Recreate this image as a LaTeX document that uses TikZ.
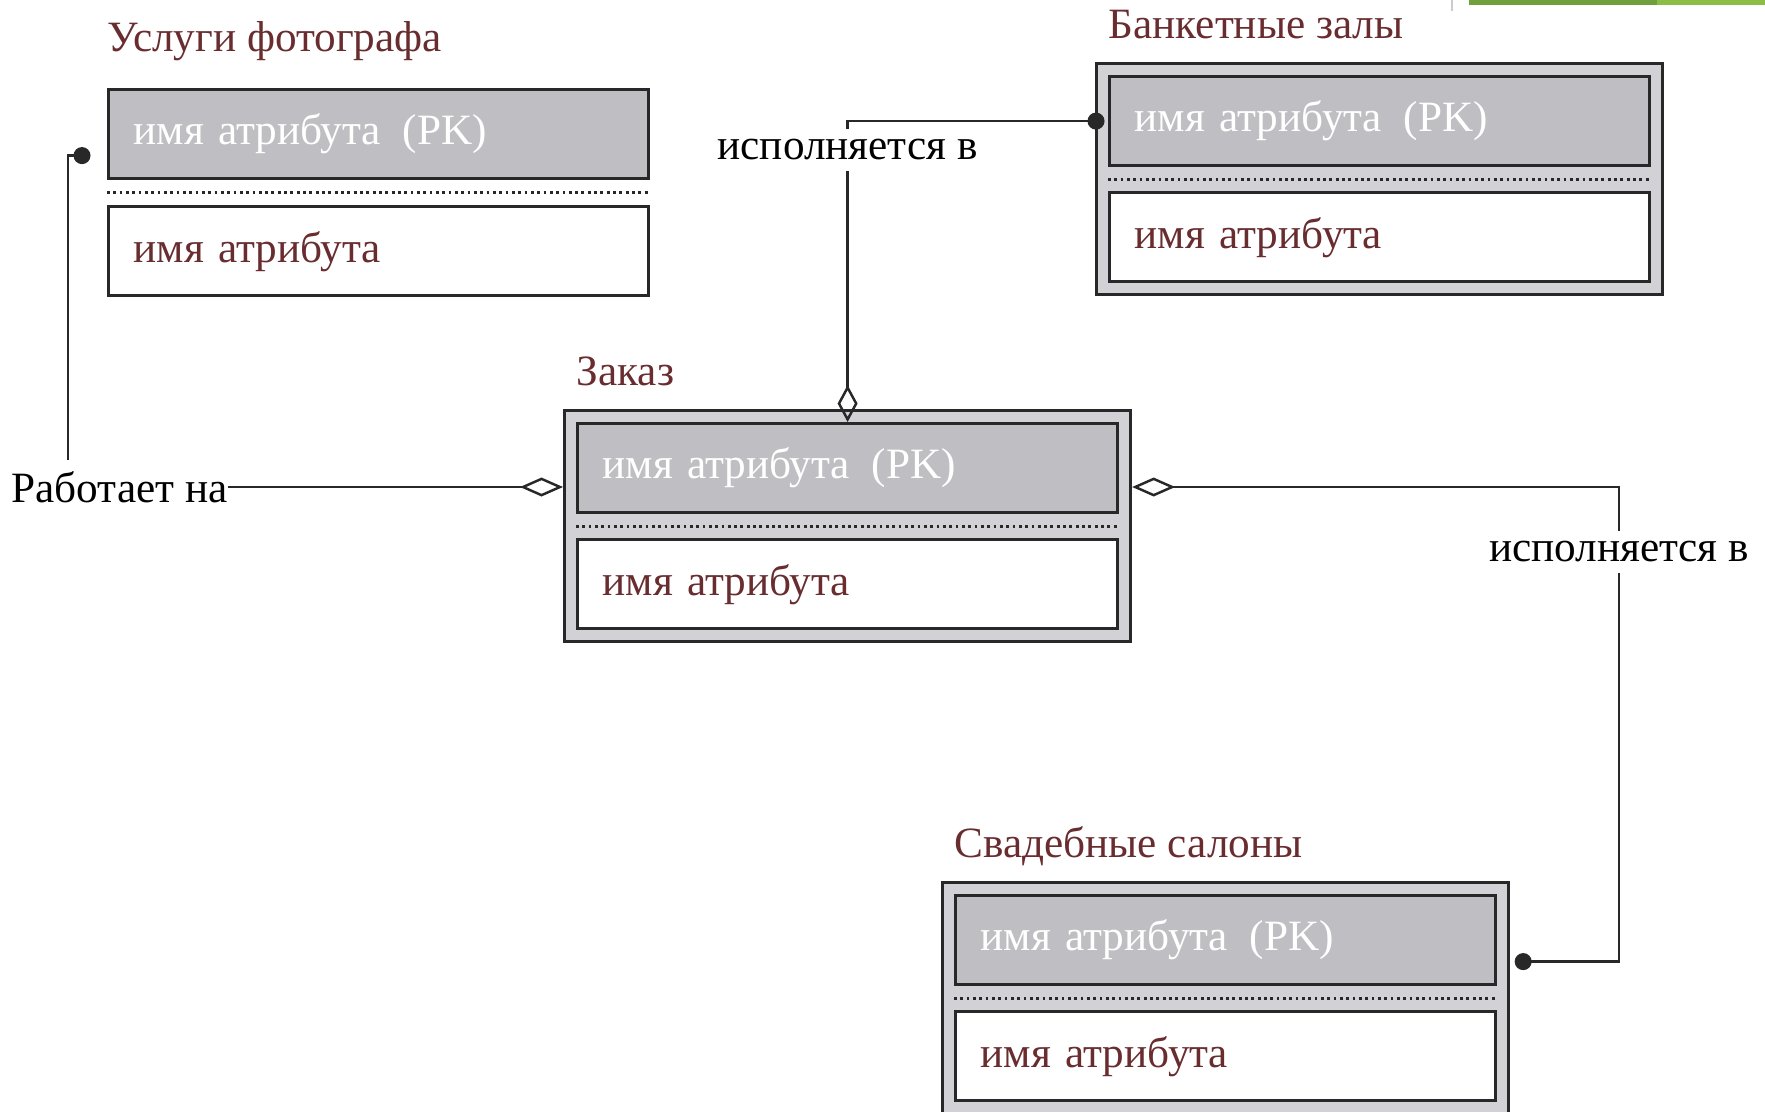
\documentclass[tikz,border=0pt]{standalone}
\usepackage{fontspec}
\setmainfont{Liberation Serif}
\usetikzlibrary{positioning,arrows.meta}

\definecolor{pkgray}{RGB}{191,190,194}
\definecolor{framegray}{RGB}{210,209,213}
\definecolor{ink}{RGB}{40,40,40}
\definecolor{maroon}{RGB}{105,45,48}
\definecolor{slidegreen}{RGB}{112,160,60}
\definecolor{slidelime}{RGB}{140,190,70}

\newcommand{\erfont}{\fontsize{12.3}{14}\selectfont}

\tikzset{
  frame/.style={draw=ink, fill=framegray, line width=0.9pt,
    minimum width=5.66cm, minimum height=2.31cm, inner sep=0pt},
  pk/.style={draw=ink, fill=pkgray, line width=0.9pt, text=white,
    font=\erfont, text width=4.9cm, inner xsep=0.25cm,
    minimum height=0.89cm, align=left},
  attr/.style={pk, fill=white, text=maroon},
  sep/.style={ink, densely dotted, line width=0.8pt},
  title/.style={text=maroon, font=\erfont, inner sep=0pt},
  rel/.style={ink, line width=0.7pt},
  lbl/.style={fill=white, text=black, font=\erfont, inner xsep=1pt, inner ysep=3pt},
  dotend/.tip={Circle[length=0.17cm]},
  many/.tip={Diamond[open, length=0.43cm, width=0.19cm]}
}

\begin{document}
\begin{tikzpicture}
  \useasboundingbox (0,0) rectangle (17.65,-11.11);
  \fill[slidegreen] (14.69,0) rectangle (16.57,-0.05);
  \fill[slidelime] (16.57,0) rectangle (17.65,-0.05);
  \draw[gray!40] (14.52,0) -- (14.52,-0.11);

  %% Услуги фотографа (no outer frame)
  \node[pk, anchor=north west] (usl-pk) at (1.07,-0.88) {имя атрибута\ \,(PK)};
  \node[attr, below=0.25cm of usl-pk] (usl-attr) {имя атрибута};
  \draw[sep] ([yshift=-0.12cm]usl-pk.south west) -- ([yshift=-0.12cm]usl-pk.south east);
  \node[title, above right=0.37cm and 0cm of usl-pk.north west, anchor=base west] (usl-title) {Услуги фотографа};

  %% Банкетные залы
  \node[frame, anchor=north west] (bank) at (10.95,-0.62) {};
  \node[pk, below right=0.13cm and 0.13cm of bank.north west] (bank-pk) {имя атрибута\ \,(PK)};
  \node[attr, below=0.24cm of bank-pk] (bank-attr) {имя атрибута};
  \draw[sep] ([yshift=-0.12cm]bank-pk.south west) -- ([yshift=-0.12cm]bank-pk.south east);
  \node[title, above right=0.37cm and 0cm of bank-pk.north west, anchor=base west] (bank-title) {Банкетные залы};

  %% Заказ
  \node[frame, anchor=north west] (zakaz) at (5.63,-4.09) {};
  \node[pk, below right=0.13cm and 0.13cm of zakaz.north west] (zakaz-pk) {имя атрибута\ \,(PK)};
  \node[attr, below=0.24cm of zakaz-pk] (zakaz-attr) {имя атрибута};
  \draw[sep] ([yshift=-0.12cm]zakaz-pk.south west) -- ([yshift=-0.12cm]zakaz-pk.south east);
  \node[title, above right=0.37cm and 0cm of zakaz-pk.north west, anchor=base west] (zakaz-title) {Заказ};

  %% Свадебные салоны
  \node[frame, anchor=north west] (salon) at (9.41,-8.81) {};
  \node[pk, below right=0.13cm and 0.13cm of salon.north west] (salon-pk) {имя атрибута\ \,(PK)};
  \node[attr, below=0.24cm of salon-pk] (salon-attr) {имя атрибута};
  \draw[sep] ([yshift=-0.12cm]salon-pk.south west) -- ([yshift=-0.12cm]salon-pk.south east);
  \node[title, above right=0.37cm and 0cm of salon-pk.north west, anchor=base west] (salon-title) {Свадебные салоны};

  %% связи
  \node[lbl, inner xsep=0pt, anchor=west] (rabota) at (0.11,-4.87) {Работает на};
  \coordinate (usl-dot) at ([xshift=-0.165cm, yshift=-0.215cm]usl-pk.west);
  \coordinate (usl-bend) at (0.68,0 |- usl-dot);
  \draw[rel, {dotend}-] (usl-dot) -- (usl-bend) -- (usl-bend |- rabota.north);
  \draw[rel, -{many}] (rabota.east) -- (rabota.east -| zakaz.west);

  \coordinate (bank-dot) at ([xshift=-0.035cm]bank-pk.west);
  \draw[rel, {dotend}-{Diamond[open, length=0.37cm, width=0.2cm]}] (bank-dot) -| (zakaz-pk.north);
  \node[lbl] (isp-top) at (zakaz-pk.north |- 0,-1.50) {исполняется в};

  \coordinate (salon-dot) at ([xshift=0.175cm, yshift=-0.215cm]salon-pk.east);
  \coordinate (r-bend) at (16.19,0 |- rabota.east);
  \draw[rel, {many}-{dotend}] (zakaz.east |- r-bend) -- (r-bend) |- (salon-dot);
  \node[lbl] (isp-right) at (r-bend |- 0,-5.52) {исполняется в};
\end{tikzpicture}
\end{document}
